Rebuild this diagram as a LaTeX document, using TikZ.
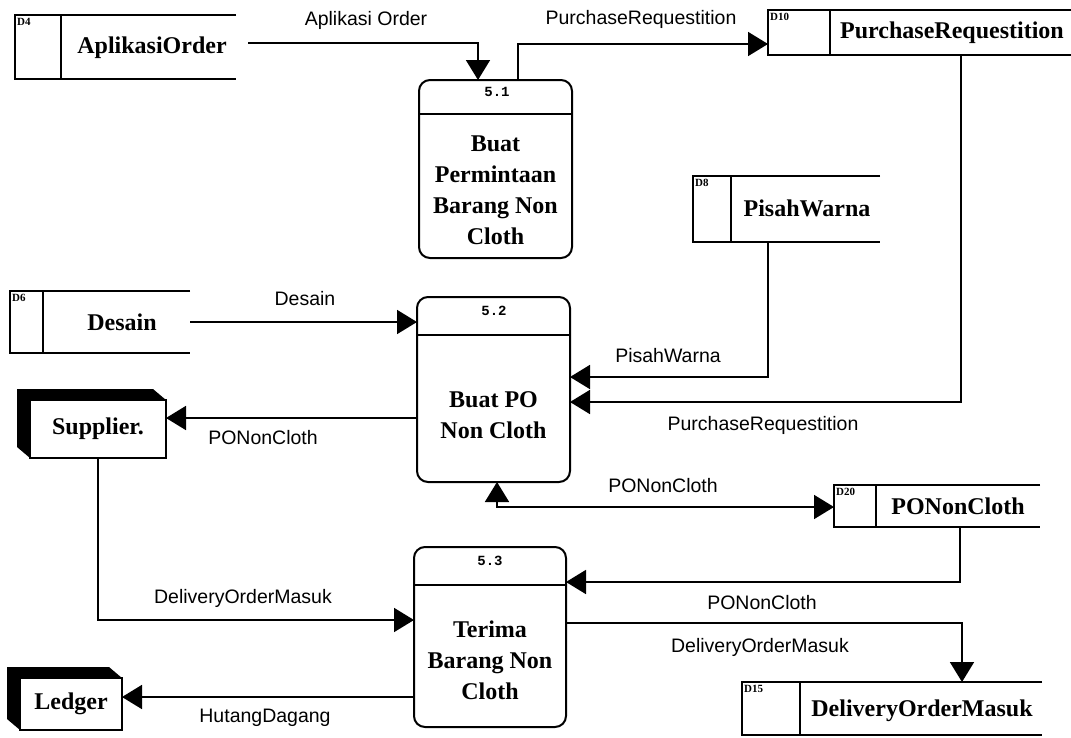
\documentclass[tikz,border=0pt]{standalone}
\usepackage{fontspec}
\setmainfont{Liberation Serif}
\setsansfont{Liberation Sans}
\setmonofont{Liberation Mono}
\usetikzlibrary{arrows.meta,calc}

\tikzset{
  wire/.style={line width=1.8pt},
  flow/.style={wire, -{Triangle[length=20pt,width=24pt]}},
  flowboth/.style={wire, {Triangle[length=20pt,width=24pt]}-{Triangle[length=20pt,width=24pt]}},
  proc/.style={draw, line width=2pt, rounded corners=11pt, inner sep=0pt, outer sep=0pt},
  ptext/.style={font=\bfseries\fontsize{24}{31}\selectfont, align=center, inner sep=0pt},
  pid/.style={font=\ttfamily\bfseries\fontsize{14}{14}\selectfont, inner sep=0pt},
  storearea/.style={inner sep=0pt, outer sep=0pt},
  storeline/.style={line width=1.8pt},
  sid/.style={font=\bfseries\fontsize{11}{11}\selectfont, inner sep=0pt},
  stext/.style={font=\bfseries\fontsize{24}{24}\selectfont, inner sep=0pt},
  entity/.style={draw, fill=white, line width=1.8pt, inner sep=0pt, outer sep=0pt,
    font=\bfseries\fontsize{24}{24}\selectfont},
  flabel/.style={font=\sffamily\fontsize{19.5}{19.5}\selectfont, inner sep=0pt},
}

% data store: name, x0, y0, x1, y1, divider offset, id
\newcommand{\dstore}[7]{%
  \node[storearea, minimum width={#4-#2}, minimum height={#5-#3}] (#1) at ({(#2+#4)/2},{(#3+#5)/2}) {};
  \draw[storeline] (#1.north east) -- (#1.north west) -- (#1.south west) -- (#1.south east);
  \draw[storeline] ($(#1.north west)+(#6,0)$) -- ($(#1.south west)+(#6,0)$);
  \node[sid, anchor=north west] (#1id) at ($(#1.north west)+(2,3)$) {#7};
}

% external entity with a solid shadow band on the left and top
\newcommand{\extbox}[6]{%
  \node[entity, minimum width={#4-#2}, minimum height={#5-#3}] (#1) at ({(#2+#4)/2},{(#3+#5)/2}) {#6};
  \fill (#1.south west) -- ++(-13,-11) -- ($(#1.north west)+(-13,-11)$)
        -- ($(#1.north east)+(-13,-11)$) -- (#1.north east) -- (#1.north west) -- cycle;
}

\begin{document}
\begin{tikzpicture}[x=1pt,y=-1pt]
\useasboundingbox (0,0) rectangle (1071,737);
\clip (0,0) rectangle (1071,737);

% processes
\node[proc, minimum width=153, minimum height=178] (p51) at (495.5,169) {};
\draw[wire] (p51.west |- 0,114) -- (p51.east |- 0,114);
\node[pid] (p51id) at (497,92) {5.1};
\node[ptext] (p51t) at (495.5,190) {Buat\\Permintaan\\Barang Non\\Cloth};

\node[proc, minimum width=153, minimum height=185] (p52) at (493.5,389.5) {};
\draw[wire] (p52.west |- 0,335) -- (p52.east |- 0,335);
\node[pid] (p52id) at (494,311) {5.2};
\node[ptext] (p52t) at (493.5,415) {Buat PO\\Non Cloth};

\node[proc, minimum width=152, minimum height=180] (p53) at (490,637) {};
\draw[wire] (p53.west |- 0,585) -- (p53.east |- 0,585);
\node[pid] (p53id) at (490,561) {5.3};
\node[ptext] (p53t) at (490,660) {Terima\\Barang Non\\Cloth};

% data stores
\dstore{d4}{15}{15}{236}{79}{46}{D4}
\node[stext] (d4t) at (152,48) {AplikasiOrder};
\dstore{d10}{768}{10}{1080}{55}{62}{D10}
\node[stext] (d10t) at (952,33) {PurchaseRequestition};
\dstore{d8}{693}{176}{880}{242}{38}{D8}
\node[stext] (d8t) at (807,208) {PisahWarna};
\dstore{d6}{10}{291}{190}{353}{33}{D6}
\node[stext] (d6t) at (122,322) {Desain};
\dstore{d20}{834}{485}{1040}{527}{42}{D20}
\node[stext] (d20t) at (958,506) {PONonCloth};
\dstore{d15}{742}{682}{1042}{735}{58}{D15}
\node[stext] (d15t) at (922,711) {DeliveryOrderMasuk};

% external entities
\extbox{sup}{30}{400}{166}{458}{Supplier.}
\extbox{led}{20}{678}{122}{730}{Ledger}

% data flows
\draw[flow] ($(d4.east)+(12,-4)$) -| (478,0 |- p51.north);
\draw[flow] (518,0 |- p51.north) |- (d10.west |- 0,44);
\draw[flow] (961,0 |- d10.south) |- (p52.east |- 0,402);
\draw[flow] (768,0 |- d8.south) |- (p52.east |- 0,377);
\draw[flow] (d6.east |- 0,322) -- (p52.west |- 0,322);
\draw[flow] (p52.west |- 0,418) -- (sup.east |- 0,418);
\draw[flowboth] (497,0 |- p52.south) |- (d20.west |- 0,507);
\draw[flow] (sup.south) |- (p53.west |- 0,620);
\draw[flow] (960,0 |- d20.south) |- (p53.east |- 0,582);
\draw[flow] (p53.east |- 0,623) -| (962,0 |- d15.north);
\draw[flow] (p53.west |- 0,697) -- (led.east |- 0,697);

% flow labels
\node[flabel] (l1) at (366,20) {Aplikasi Order};
\node[flabel] (l2) at (641,19) {PurchaseRequestition};
\node[flabel] (l3) at (305,299) {Desain};
\node[flabel] (l4) at (668,356) {PisahWarna};
\node[flabel] (l5) at (263,438) {PONonCloth};
\node[flabel] (l6) at (763,425) {PurchaseRequestition};
\node[flabel] (l7) at (663,486) {PONonCloth};
\node[flabel] (l8) at (243,598) {DeliveryOrderMasuk};
\node[flabel] (l9) at (762,603) {PONonCloth};
\node[flabel] (l10) at (760,647) {DeliveryOrderMasuk};
\node[flabel] (l11) at (265,718) {HutangDagang};
\end{tikzpicture}
\end{document}
